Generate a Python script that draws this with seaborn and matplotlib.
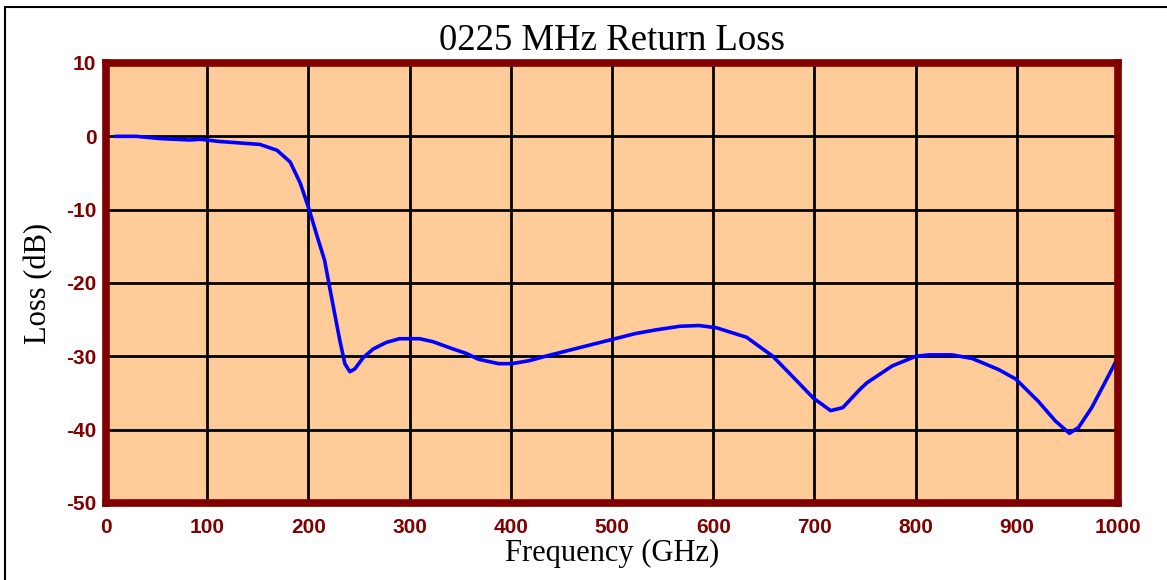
import matplotlib
matplotlib.use("Agg")
import matplotlib.pyplot as plt
import seaborn as sns
import pandas as pd
from matplotlib.lines import Line2D

# Valores
freq = [9, 30, 53, 83, 93, 112, 132, 152, 169, 182, 192, 201, 209, 216, 221,
        226, 231, 236, 241, 246, 254, 264, 277, 290, 310, 323, 343, 356, 368,
        388, 401, 418, 434, 454, 477, 500, 523, 543, 567, 586, 603, 633, 659,
        683, 699, 716, 728, 745, 752, 777, 800, 813, 836, 856, 882, 899, 921,
        938, 952, 961, 974, 987, 999]
loss = [0.0, 0.0, -0.3, -0.5, -0.4, -0.7, -0.9, -1.1, -1.9, -3.5, -6.4, -10.1,
        -13.8, -16.9, -20.6, -24.2, -27.8, -31.0, -32.1, -31.7, -30.2, -29.0,
        -28.1, -27.6, -27.6, -28.0, -29.0, -29.6, -30.4, -31.0, -31.0, -30.6,
        -30.0, -29.3, -28.5, -27.7, -26.9, -26.4, -25.9, -25.8, -26.1, -27.4,
        -30.0, -33.4, -35.7, -37.4, -37.0, -34.5, -33.6, -31.3, -30.0, -29.8,
        -29.8, -30.3, -31.8, -33.1, -36.1, -38.8, -40.5, -39.7, -37.0, -33.6,
        -30.4]
x_ticks = list(range(0, 1001, 100))
y_ticks = list(range(-50, 11, 10))

df = pd.DataFrame({"Frequency": freq, "Loss": loss})

sns.set_style("white")
plt.rcParams["font.family"] = ["Liberation Serif", "DejaVu Serif"]
plt.rcParams["axes.unicode_minus"] = False

fig = plt.figure(figsize=(11.67, 5.8), dpi=100)
ax = fig.add_axes([106 / 1167, 1 - 503 / 580, 1012 / 1167, 440 / 580])
ax.set_facecolor("#FFCC99")

sns.lineplot(data=df, x="Frequency", y="Loss", ax=ax, color="#0000FF",
             linewidth=2.6, zorder=3)

ax.set_xlim(0, 1000)
ax.set_ylim(-50, 10)
ax.set_xticks(x_ticks)
ax.set_yticks(y_ticks)
ax.grid(True, color="black", linewidth=2.0, zorder=1)
ax.set_axisbelow(True)

for s in ax.spines.values():
    s.set_color("#800000")
    s.set_linewidth(5.5)
    s.set_zorder(4)

ax.tick_params(axis="y", length=6, width=2, color="black", direction="out",
               pad=1)
ax.tick_params(axis="x", length=0, pad=11)
for lbl in ax.get_xticklabels() + ax.get_yticklabels():
    lbl.set_fontfamily(["Liberation Sans", "DejaVu Sans"])
    lbl.set_fontweight("bold")
    lbl.set_fontsize(15)
    lbl.set_color("#800000")

ax.set_title("0225 MHz Return Loss", fontsize=26.5, pad=9, color="black")
ax.set_xlabel("Frequency (GHz)", fontsize=22, labelpad=1, color="black")
ax.set_ylabel("Loss (dB)", fontsize=22, labelpad=9, color="black")

# moldura externa
fig.add_artist(Line2D([5 / 1167, 1], [1 - 6.5 / 580] * 2, color="black",
                      linewidth=1.5, transform=fig.transFigure))
fig.add_artist(Line2D([5 / 1167] * 2, [0, 1 - 6.5 / 580], color="black",
                      linewidth=1.5, transform=fig.transFigure))

fig.savefig("out.png", dpi=100)
